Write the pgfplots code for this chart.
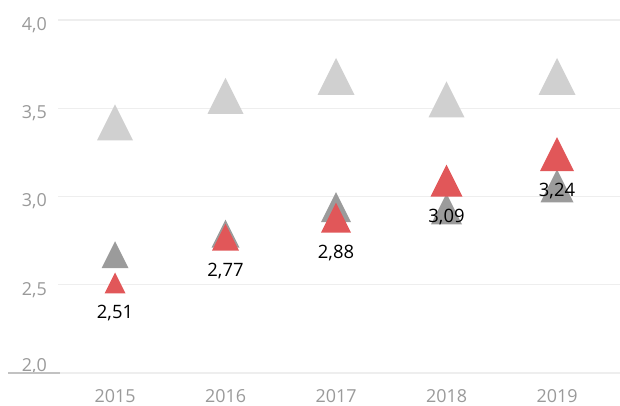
\documentclass[border=0pt]{standalone}
\usepackage{pgfplots}
\pgfplotsset{compat=1.18}
\usepackage{pgfplotstable}
\usepackage{fontspec}
\setmainfont{Open Sans}

\definecolor{lgray}{HTML}{D0D0D0}
\definecolor{dgray}{HTML}{9B9B9B}
\definecolor{cred}{HTML}{E15759}
\definecolor{gridc}{HTML}{EEEEEE}
\definecolor{tickc}{HTML}{9A9A9A}
\definecolor{segc}{HTML}{C2C2C2}

% triangle as tall as it is wide, centred on its box
\pgfdeclareplotmark{tri}{%
  \pgfpathmoveto{\pgfqpoint{0pt}{\pgfplotmarksize}}%
  \pgfpathlineto{\pgfqpoint{-\pgfplotmarksize}{-\pgfplotmarksize}}%
  \pgfpathlineto{\pgfqpoint{\pgfplotmarksize}{-\pgfplotmarksize}}%
  \pgfpathclose
  \pgfusepathqfill}

\pgfplotstableread{
x    y    s
2015 3.42 18
2016 3.57 18
2017 3.68 18.5
2018 3.55 18
2019 3.68 18.5
}\lightdata

\pgfplotstableread{
x    y    s
2015 2.67 13.5
2016 2.79 14
2017 2.94 15
2018 2.93 15.5
2019 3.06 16.5
}\darkdata

\pgfplotstableread{
x    y    s
2015 2.51 10.5
2016 2.77 13.5
2017 2.88 15
2018 3.09 16
2019 3.24 17
}\reddata

\pgfplotsset{
  tris/.style={scatter, only marks, mark=tri, point meta=y,
    scatter/use mapped color={draw=none, fill=#1},
    visualization depends on={\thisrow{s} \as \msize},
    scatter/@pre marker code/.append style={/tikz/mark size=\msize bp}},
}

\begin{document}
\begin{tikzpicture}
\useasboundingbox (0,0) rectangle (620bp,406bp);
\begin{axis}[
  at={(58bp,33bp)}, anchor=south west,
  scale only axis, width=562bp, height=353bp,
  xmin=2014.484, xmax=2019.57, ymin=2, ymax=4,
  clip=false,
  axis line style={draw=none},
  major tick length=0pt,
  /pgf/number format/assume math mode=true,
  xtick={2015,2016,2017,2018,2019},
  xticklabels={2015,2016,2017,2018,2019},
  xticklabel style={anchor=center, inner sep=0pt, yshift=-23bp,
    text=tickc, font=\fontsize{18}{20}\selectfont},
  ytick={2.5,3,3.5,4},
  extra y ticks={2},
  extra y tick style={grid=major, yticklabel style={yshift=12bp}},
  yticklabel style={anchor=east, inner sep=0pt, xshift=-11bp, yshift=-5bp,
    text=tickc, font=\fontsize{18}{20}\selectfont,
    /pgf/number format/use comma, /pgf/number format/fixed,
    /pgf/number format/fixed zerofill, /pgf/number format/precision=1},
  ymajorgrids,
  grid style={gridc, line width=1.2bp},
]
\addplot[tris=lgray] table[x=x, y=y] {\lightdata};
\addplot[tris=dgray] table[x=x, y=y] {\darkdata};
\addplot[tris=cred] table[x=x, y=y] {\reddata};
% value labels under the red triangles
\addplot[only marks, mark=none, point meta=y,
  visualization depends on={\thisrow{s} \as \msize},
  nodes near coords={\pgfmathprintnumber[use comma, fixed, fixed zerofill, precision=2]{\pgfplotspointmeta}},
  every node near coord/.append style={anchor=center, inner sep=0pt,
    yshift=-\msize*1bp-20bp, text=black, font=\fontsize{18.5}{20}\selectfont}]
  table[x=x, y=y] {\reddata};
\end{axis}
\draw[segc, line width=1.2bp] (8bp,33bp) -- (60bp,33bp);
\end{tikzpicture}
\end{document}
